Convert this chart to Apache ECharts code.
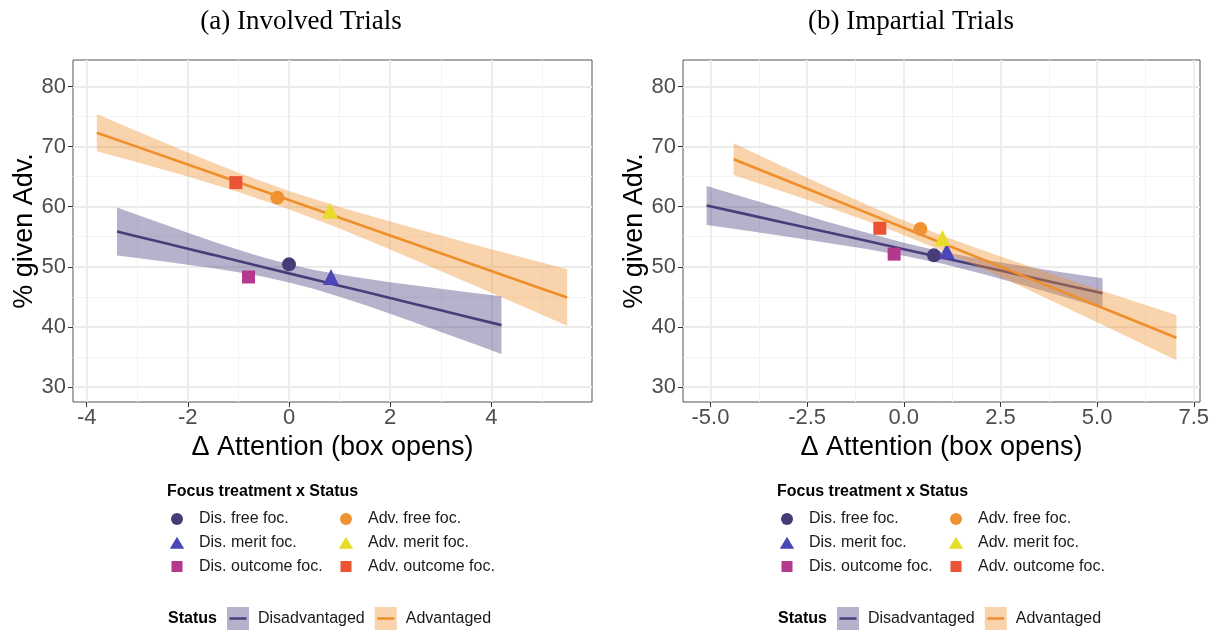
<!DOCTYPE html>
<html>
<head>
<meta charset="utf-8">
<script src="https://cdn.jsdelivr.net/npm/echarts@6/dist/echarts.min.js"></script>
<style>
html, body { margin: 0; padding: 0; background: #fff; }
#main { width: 1219px; height: 633px; }
</style>
</head>
<body>
<div id="main"></div>
<script>
// ---- data ----
const panelTitles = ['(a) Involved Trials', '(b) Impartial Trials'];
const focusNames = ['Dis. free foc.', 'Dis. merit foc.', 'Dis. outcome foc.',
                    'Adv. free foc.', 'Adv. merit foc.', 'Adv. outcome foc.'];
const statusNames = ['Disadvantaged', 'Advantaged'];

// group means, panel a / panel b
const focusXA = [0.0, 0.83, -0.8, -0.23, 0.81, -1.05];
const focusYA = [50.4, 48.3, 48.3, 61.5, 59.3, 64.0];
const focusXB = [0.78, 1.11, -0.25, 0.43, 1.0, -0.62];
const focusYB = [51.9, 52.6, 52.1, 56.3, 54.8, 56.4];

// fitted lines + confidence bands, panel a
const disXA = [-3.4, -3, -2.5, -2, -1.5, -1, -0.5, 0, 0.5, 1, 1.5, 2, 2.5, 3, 3.5, 4.2];
const disFitA = [55.87, 55.05, 54.03, 53.0, 51.98, 50.95, 49.93, 48.9, 47.88, 46.85, 45.83, 44.8, 43.78, 42.75, 41.73, 40.29];
const disLoA = [51.87, 51.45, 50.92, 50.35, 49.76, 49.09, 48.33, 47.4, 46.29, 45.0, 43.62, 42.17, 40.69, 39.15, 37.65, 35.5];
const disHiA = [59.87, 58.65, 57.14, 55.65, 54.2, 52.81, 51.53, 50.4, 49.47, 48.7, 48.04, 47.43, 46.87, 46.35, 45.81, 45.08];
const advXA = [-3.8, -3, -2, -1, 0, 1, 2, 3, 4, 5, 5.5];
const advFitA = [72.31, 69.95, 67.0, 64.05, 61.1, 58.15, 55.2, 52.25, 49.3, 46.35, 44.88];
const advLoA = [69.21, 67.37, 65.0, 62.45, 59.58, 56.36, 52.89, 49.31, 45.68, 42.01, 40.18];
const advHiA = [75.41, 72.53, 69.0, 65.65, 62.62, 59.94, 57.51, 55.19, 52.92, 50.69, 49.58];

// fitted lines + confidence bands, panel b
const disXB = [-5.1, -4, -3, -2, -1, 0, 1, 2, 3, 4, 5.14];
const disFitB = [60.2, 58.63, 57.21, 55.78, 54.36, 52.93, 51.5, 50.08, 48.65, 47.23, 45.6];
const disLoB = [56.95, 55.93, 54.99, 54.01, 52.99, 51.85, 50.49, 48.89, 47.11, 45.27, 43.1];
const disHiB = [63.45, 61.33, 59.43, 57.55, 55.73, 54.01, 52.51, 51.27, 50.19, 49.19, 48.1];
const advXB = [-4.4, -2.5, -1, 0, 1, 2.5, 4, 5.5, 7.05];
const advFitB = [67.9, 62.99, 59.09, 56.5, 53.91, 50.02, 46.12, 42.23, 38.2];
const advLoB = [65.26, 61.16, 57.75, 55.29, 52.64, 48.32, 43.81, 39.23, 34.46];
const advHiB = [70.56, 64.82, 60.43, 57.71, 55.18, 51.72, 48.43, 45.23, 41.96];

// axis ticks
const xTicksA = [-4, -2, 0, 2, 4];
const xMinorA = [-3, -1, 1, 3, 5];
const xTicksB = [-5, -2.5, 0, 2.5, 5, 7.5];
const xMinorB = [-3.75, -1.25, 1.25, 3.75, 6.25];
const yTicks = [30, 40, 50, 60, 70, 80];
const yMinor = [35, 45, 55, 65, 75];

// ---- styling ----
const SANS = 'Liberation Sans';
const focusColors = ['#463c78', '#4b47b9', '#b4398c', '#ef9232', '#e8dc2a', '#ec5334'];
const focusIcons = ['circle', 'triangle', 'rect', 'circle', 'triangle', 'rect'];
const focusSizes = [14, 16, 13, 14, 16, 13];
// legend keys drawn inside a 34x12 box (corner specks fix the box size)
const CORNERS = 'M0,0H0.01V0.01H0Z M33.99,11.99H34V12H33.99Z ';
const keyIcons = {
    circle: 'circle',
    triangle: 'path://' + CORNERS + 'M9.5,12L17,-0.5L24.5,12Z',
    rect: 'path://' + CORNERS + 'M11.5,0.5H22.5V11.5H11.5Z'
};
const lineColors = ['#483d7a', '#ef8f2c'];
const bandColors = ['rgba(72,62,124,0.4)', 'rgba(240,146,46,0.4)'];
const keyColors = ['#b6b2cb', '#f9d3ab'];
const xRange = [[-4.27, 5.99], [-5.71, 7.66]];
const yRange = [27.5, 84.4];
const offs = [0, 610];

const myChart = echarts.init(document.getElementById('main'));

function majorX(p, ticks, fmt) {
    return {
        gridIndex: p, type: 'value', min: xRange[p][0], max: xRange[p][1],
        name: 'Δ Attention (box opens)', nameLocation: 'middle', nameGap: 27,
        nameTextStyle: { fontFamily: SANS, fontSize: 27, color: '#000' },
        axisLine: { show: false, onZero: false },
        axisTick: { show: true, customValues: ticks, length: 5, lineStyle: { color: '#333', width: 1 } },
        axisLabel: { customValues: ticks, formatter: fmt, fontFamily: SANS, fontSize: 22, color: '#4d4d4d', margin: 5 },
        splitLine: { show: true, lineStyle: { color: '#ebebeb', width: 1.8 } }
    };
}
function minorX(p, ticks) {
    return {
        gridIndex: p, type: 'value', min: xRange[p][0], max: xRange[p][1], position: 'top',
        axisLine: { show: false, onZero: false }, axisLabel: { show: false },
        axisTick: { show: false, customValues: ticks },
        splitLine: { show: true, lineStyle: { color: '#f3f3f3', width: 1 } }
    };
}
function majorY(p) {
    return {
        gridIndex: p, type: 'value', min: yRange[0], max: yRange[1],
        name: '% given Adv.', nameLocation: 'middle', nameGap: 33,
        nameTextStyle: { fontFamily: SANS, fontSize: 27, color: '#000' },
        axisLine: { show: false, onZero: false },
        axisTick: { show: true, customValues: yTicks, length: 5, lineStyle: { color: '#333', width: 1 } },
        axisLabel: { customValues: yTicks, fontFamily: SANS, fontSize: 22, color: '#4d4d4d', margin: 7 },
        splitLine: { show: true, lineStyle: { color: '#ebebeb', width: 1.8 } }
    };
}
function minorY(p) {
    return {
        gridIndex: p, type: 'value', min: yRange[0], max: yRange[1], position: 'right',
        axisLine: { show: false, onZero: false }, axisLabel: { show: false },
        axisTick: { show: false, customValues: yMinor },
        splitLine: { show: true, lineStyle: { color: '#f3f3f3', width: 1 } }
    };
}

// confidence ribbon as one polygon
function bandSeries(name, xs, lo, hi, fill, p, z) {
    return {
        type: 'custom', name: name, xAxisIndex: 2 * p, yAxisIndex: 2 * p, z: z, silent: true,
        data: xs.map((x, i) => [x, lo[i], hi[i]]),
        encode: { x: 0, y: [1, 2] },
        renderItem: function (params, api) {
            if (params.dataIndex !== 0) return;
            const pts = [];
            for (let i = 0; i < xs.length; i++) pts.push(api.coord([xs[i], hi[i]]));
            for (let i = xs.length - 1; i >= 0; i--) pts.push(api.coord([xs[i], lo[i]]));
            return { type: 'polygon', shape: { points: pts }, style: { fill: fill } };
        }
    };
}
function fitSeries(name, xs, fit, color, p, z) {
    return {
        type: 'line', name: name, xAxisIndex: 2 * p, yAxisIndex: 2 * p, z: z, silent: true,
        data: xs.map((x, i) => [x, fit[i]]),
        symbol: 'none', lineStyle: { color: color, width: 2.6 }, itemStyle: { color: color }
    };
}

const series = [];
const panels = [
    { fx: focusXA, fy: focusYA, dis: [disXA, disFitA, disLoA, disHiA], adv: [advXA, advFitA, advLoA, advHiA] },
    { fx: focusXB, fy: focusYB, dis: [disXB, disFitB, disLoB, disHiB], adv: [advXB, advFitB, advLoB, advHiB] }
];
panels.forEach(function (d, p) {
    series.push(bandSeries(statusNames[0], d.dis[0], d.dis[2], d.dis[3], bandColors[0], p, 3));
    series.push(fitSeries(statusNames[0], d.dis[0], d.dis[1], lineColors[0], p, 4));
    series.push(bandSeries(statusNames[1], d.adv[0], d.adv[2], d.adv[3], bandColors[1], p, 5));
    series.push(fitSeries(statusNames[1], d.adv[0], d.adv[1], lineColors[1], p, 6));
    focusNames.forEach(function (n, k) {
        series.push({
            type: 'scatter', name: n, xAxisIndex: 2 * p, yAxisIndex: 2 * p, z: 7,
            data: [[d.fx[k], d.fy[k]]],
            symbol: focusIcons[k], symbolSize: focusSizes[k],
            itemStyle: { color: focusColors[k], opacity: 1 }
        });
    });
});

const legendText = { fontFamily: SANS, fontSize: 16, color: '#1a1a1a' };
const legends = [];
const titles = [];
offs.forEach(function (o, p) {
    titles.push({
        text: panelTitles[p], left: 296 + o, top: 3, textAlign: 'center',
        textStyle: { fontFamily: 'Liberation Serif', fontWeight: 'normal', fontSize: 27, color: '#000' }
    });
    titles.push({ text: 'Focus treatment x Status', left: 162 + o, top: 479,
        textStyle: { fontFamily: SANS, fontWeight: 'bold', fontSize: 16, color: '#000' } });
    titles.push({ text: 'Status', left: 163 + o, top: 606,
        textStyle: { fontFamily: SANS, fontWeight: 'bold', fontSize: 16, color: '#000' } });
    [0, 3].forEach(function (s, c) {
        legends.push({
            orient: 'vertical', left: (c === 0 ? 155 : 324) + o, top: 506,
            itemWidth: 34, itemHeight: 12, itemGap: 7.7,
            textStyle: legendText,
            data: focusNames.slice(s, s + 3).map((n, k) => ({ name: n, icon: keyIcons[focusIcons[s + k]] }))
        });
    });
    // status key: shaded box ...
    legends.push({
        orient: 'horizontal', left: 222 + o, top: 602, itemWidth: 22, itemHeight: 23, itemGap: 10,
        textStyle: Object.assign({}, legendText, { padding: [0, 0, 0, 4] }),
        data: statusNames.map((n, k) => ({ name: n, icon: 'rect', itemStyle: { color: keyColors[k] } }))
    });
    // ... with the fitted line drawn over it (same layout, hidden text)
    legends.push({
        orient: 'horizontal', left: 222 + o, top: 602, itemWidth: 22, itemHeight: 23, itemGap: 10,
        selectedMode: false,
        textStyle: Object.assign({}, legendText, { padding: [0, 0, 0, 4], color: 'rgba(0,0,0,0)' }),
        data: statusNames.map((n, k) => ({
            name: n,
            icon: 'path://M0,0H0.01V0.01H0Z M2.5,10.3H19.5V12.7H2.5Z M21.99,22.99H22V23H21.99Z',
            itemStyle: { color: lineColors[k] }
        }))
    });
});

const option = {
    backgroundColor: '#fff',
    animation: false,
    title: titles,
    legend: legends,
    grid: [
        { left: 73, top: 60, width: 519, height: 342, show: true, borderColor: '#555', borderWidth: 1, backgroundColor: '#fff' },
        { left: 683, top: 60, width: 517, height: 342, show: true, borderColor: '#555', borderWidth: 1, backgroundColor: '#fff' }
    ],
    xAxis: [
        majorX(0, xTicksA, v => String(v)), minorX(0, xMinorA),
        majorX(1, xTicksB, v => v.toFixed(1)), minorX(1, xMinorB)
    ],
    yAxis: [majorY(0), minorY(0), majorY(1), minorY(1)],
    series: series
};
myChart.setOption(option);
</script>
</body>
</html>
